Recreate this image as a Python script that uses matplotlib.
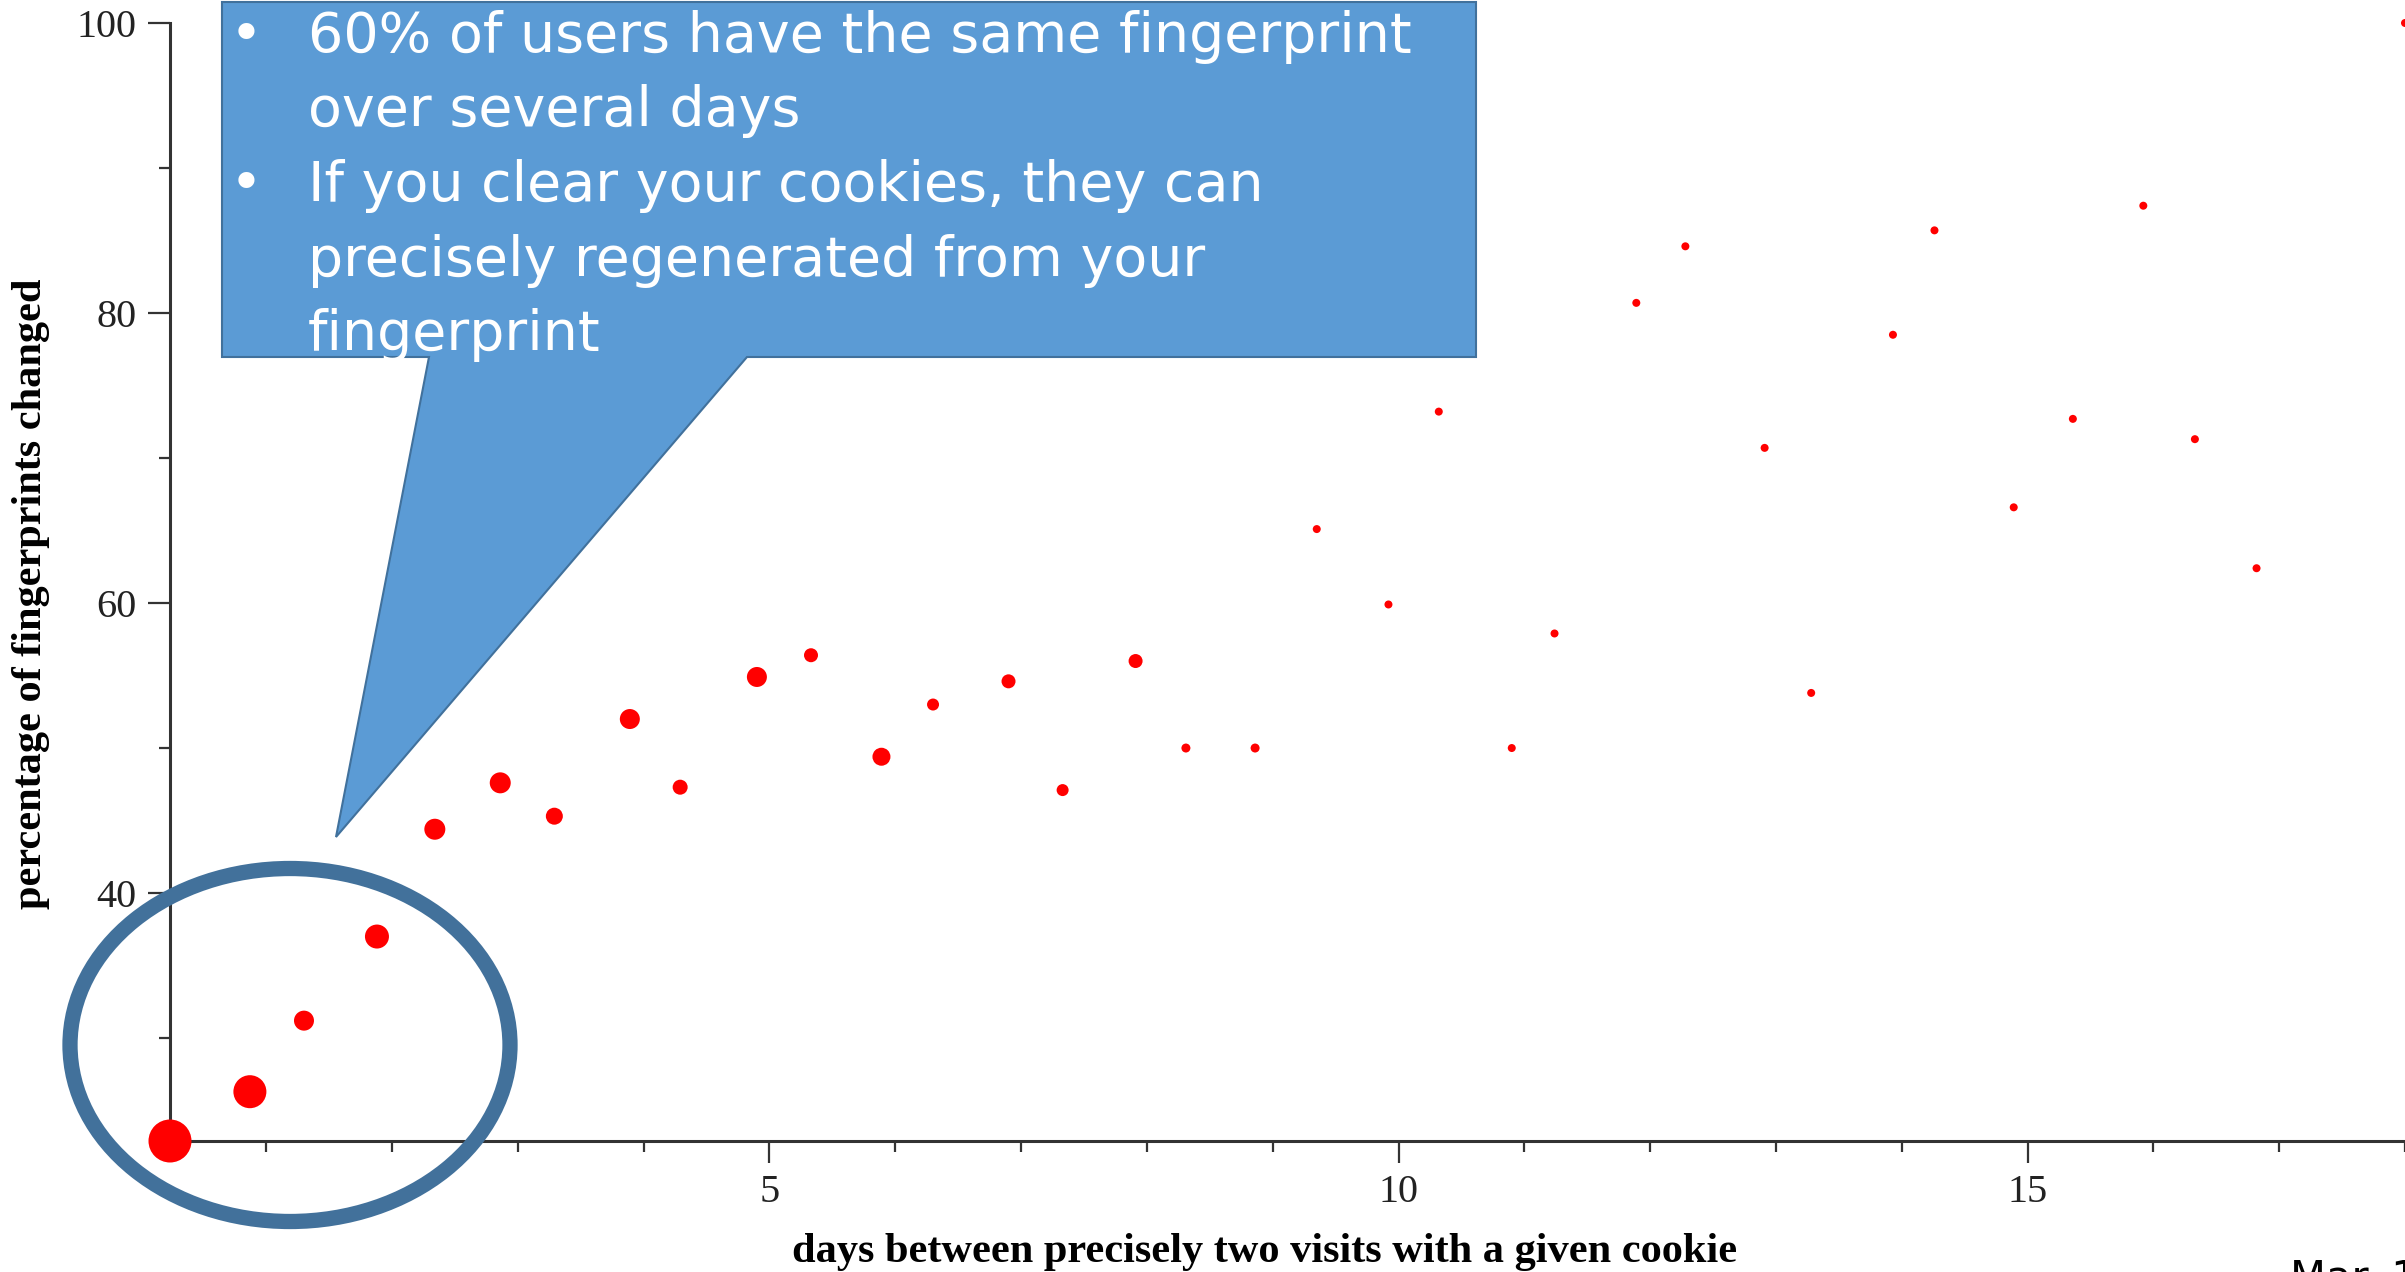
import matplotlib
matplotlib.use("Agg")
import matplotlib.pyplot as plt
from matplotlib.patches import Polygon, Ellipse

# data
days = [0.235, 0.87, 1.30, 1.88, 2.34, 2.86, 3.29, 3.89, 4.29, 4.90, 5.33, 5.89,
        6.30, 6.90, 7.33, 7.91, 8.31, 8.86, 9.35, 9.92, 10.32, 10.90, 11.24,
        11.89, 12.28, 12.91, 13.28, 13.93, 14.26, 14.89, 15.36, 15.92, 16.33,
        16.82, 18.0]
pct_changed = [22.9, 26.3, 31.2, 37.0, 44.4, 47.6, 45.3, 52.0, 47.3, 54.9, 56.4, 49.4,
               53.0, 54.6, 47.1, 56.0, 50.0, 50.0, 65.1, 59.9, 73.2, 50.0, 57.9,
               80.7, 84.6, 70.7, 53.8, 78.5, 85.7, 66.6, 72.7, 87.4, 71.3,
               62.4, 100.0]
# dot diameter (px) ~ number of samples behind each point
dot_px = [43, 33, 20, 24, 21, 21, 17, 20, 15, 20, 14, 18,
          12, 14, 12, 14, 9, 9, 8, 8, 8, 8, 8,
          8, 8, 8, 8, 8, 8, 8, 8, 8, 8,
          8, 8]

bullets = ["60% of users have the same fingerprint\nover several days",
           "If you clear your cookies, they can\nprecisely regenerated from your\nfingerprint"]

W, H = 2405, 1272
fig = plt.figure(figsize=(W / 100, H / 100), dpi=100)
ax = fig.add_axes([170 / W, 131 / H, (W - 170) / W, (1141 - 23) / H])

sizes = [(d * 0.72) ** 2 for d in dot_px]
ax.scatter(days, pct_changed, s=sizes, color='red', edgecolors='none', clip_on=False, zorder=3)

ax.set_xlim(min(days), max(days))
ax.set_ylim(min(pct_changed), max(pct_changed))
ax.set_xticks([5, 10, 15])
ax.set_xticks(range(1, 19), minor=True)
ax.set_yticks([40, 60, 80, 100])
ax.set_yticks([30, 50, 70, 90], minor=True)

for s in ['top', 'right']:
    ax.spines[s].set_visible(False)
for s in ['left', 'bottom']:
    ax.spines[s].set_linewidth(2.2)
    ax.spines[s].set_color('#333333')

ax.tick_params(which='major', length=16, width=1.6, color='#333333', pad=8,
               labelsize=29, labelfontfamily='Liberation Serif', labelcolor='#222222')
ax.tick_params(which='minor', length=8, width=1.6, color='#333333')

fig.text(0.526, 0.008, 'days between precisely two visits with a given cookie',
         ha='center', va='baseline', fontsize=30.5, fontweight='bold',
         family='Liberation Serif')
fig.text(0.013, 0.533, 'percentage of fingerprints changed', rotation=90,
         ha='center', va='center', fontsize=30.5, fontweight='bold',
         family='Liberation Serif')

# callout box with pointer
box_px = [(222, 2), (1476, 2), (1476, 357), (747, 357), (336, 837), (429, 357), (222, 357)]
box = Polygon([(x / W, 1 - y / H) for x, y in box_px], closed=True,
              transform=fig.transFigure, facecolor='#5B9BD5', edgecolor='#41719C',
              linewidth=1.5, zorder=10)
fig.patches.append(box)

baselines = [52, 126, 201, 276, 350]
row = 0
for b in bullets:
    fig.text(246 / W, 1 - baselines[row] / H, u'\u2022', color='white', fontsize=40,
             ha='center', va='baseline', family='DejaVu Sans', zorder=11)
    for line in b.split('\n'):
        fig.text(308 / W, 1 - baselines[row] / H, line, color='white', fontsize=40,
                 ha='left', va='baseline', family='DejaVu Sans', zorder=11)
        row += 1

# circle around the first days
ring = Ellipse((290 / W, 1 - 1045 / H), 440 / W, 353 / H, transform=fig.transFigure,
               fill=False, edgecolor='#42719B', linewidth=11, zorder=12)
fig.patches.append(ring)

fig.text(2290 / W, 1 - 1258 / H, 'Mar. 14 2019', fontsize=30, va='top', ha='left',
         family='DejaVu Sans')

fig.savefig('out.png', dpi=100)
